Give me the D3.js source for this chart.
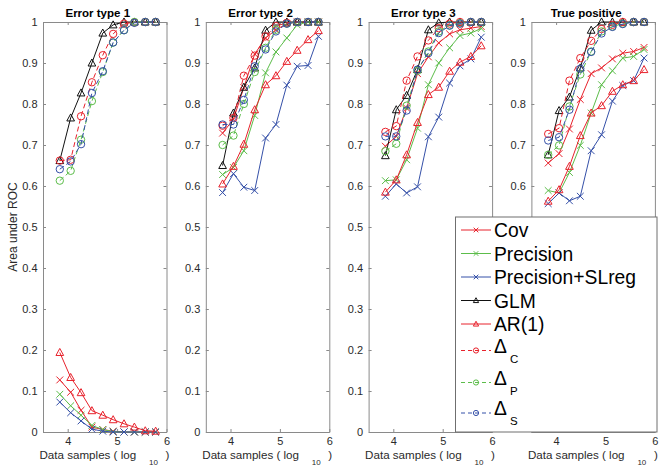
<!DOCTYPE html>
<html><head><meta charset="utf-8">
<script src="https://cdn.jsdelivr.net/npm/d3@7"></script>
<style>
html,body{margin:0;padding:0;background:#fff;}
svg{display:block;font-family:"Liberation Sans",Arial,sans-serif;}
</style></head>
<body><svg id="chart" width="668" height="473"></svg>
<script>
// ---------- data ----------
const xSamples = [3.84, 4.06, 4.27, 4.49, 4.71, 4.92, 5.14, 5.35, 5.57, 5.78];
const panelTitles = ["Error type 1", "Error type 2", "Error type 3", "True positive"];
const xTicks = [4, 5, 6];
const yTicks = [0, 0.1, 0.2, 0.3, 0.4, 0.5, 0.6, 0.7, 0.8, 0.9, 1];
const yTickLabels = ["0", "0.1", "0.2", "0.3", "0.4", "0.5", "0.6", "0.7", "0.8", "0.9", "1"];

const covValues = [
  [0.127, 0.097, 0.053, 0.012, 0.006, 0.002, 0, 0, 0, 0],
  [0.729, 0.763, 0.840, 0.922, 0.961, 0.981, 0.996, 1, 1, 1],
  [0.697, 0.721, 0.790, 0.874, 0.915, 0.949, 0.971, 0.981, 0.985, 0.989],
  [0.656, 0.679, 0.739, 0.811, 0.874, 0.888, 0.910, 0.924, 0.928, 0.938]
];
const precisionValues = [
  [0.092, 0.064, 0.041, 0.016, 0.006, 0.001, 0, 0, 0, 0],
  [0.628, 0.645, 0.686, 0.772, 0.876, 0.927, 0.961, 0.993, 1, 1],
  [0.613, 0.615, 0.664, 0.741, 0.847, 0.900, 0.937, 0.967, 0.973, 0.984],
  [0.589, 0.583, 0.633, 0.699, 0.778, 0.847, 0.881, 0.912, 0.916, 0.933]
];
const precSLregValues = [
  [0.073, 0.047, 0.027, 0.007, 0.002, 0, 0, 0, 0, 0],
  [0.584, 0.630, 0.597, 0.589, 0.717, 0.750, 0.846, 0.892, 0.894, 0.965],
  [0.575, 0.605, 0.583, 0.598, 0.720, 0.768, 0.851, 0.893, 0.910, 0.963],
  [0.557, 0.583, 0.564, 0.575, 0.686, 0.725, 0.807, 0.845, 0.857, 0.912]
];
const glmValues = [
  [0.662, 0.766, 0.827, 0.900, 0.973, 0.993, 1, 1, 1, 1],
  [0.650, 0.778, 0.841, 0.888, 0.980, 1, 1, 1, 1, 1],
  [0.674, 0.786, 0.821, 0.884, 0.981, 0.998, 1, 1, 1, 1],
  [0.676, 0.784, 0.817, 0.888, 0.980, 1, 1, 1, 1, 1]
];
const ar1Values = [
  [0.194, 0.133, 0.096, 0.052, 0.041, 0.030, 0.020, 0.012, 0.003, 0.002],
  [0.605, 0.648, 0.702, 0.786, 0.847, 0.869, 0.904, 0.931, 0.957, 0.979],
  [0.585, 0.615, 0.676, 0.755, 0.823, 0.841, 0.880, 0.902, 0.916, 0.942],
  [0.563, 0.591, 0.648, 0.723, 0.778, 0.796, 0.831, 0.847, 0.857, 0.884]
];
const deltaCValues = [
  [0.662, 0.664, 0.770, 0.853, 0.919, 0.971, 0.996, 0.999, 1, 1],
  [0.747, 0.766, 0.869, 0.918, 0.965, 0.990, 0.998, 1, 1, 1],
  [0.732, 0.746, 0.857, 0.916, 0.955, 0.985, 0.996, 1, 1, 1],
  [0.727, 0.741, 0.857, 0.912, 0.954, 0.983, 0.993, 1, 1, 1]
];
const deltaPValues = [
  [0.613, 0.637, 0.713, 0.807, 0.878, 0.950, 0.980, 1, 1, 1],
  [0.700, 0.723, 0.800, 0.878, 0.937, 0.981, 0.996, 1, 1, 1],
  [0.685, 0.703, 0.796, 0.881, 0.928, 0.977, 0.992, 0.997, 1, 1],
  [0.676, 0.699, 0.794, 0.872, 0.928, 0.977, 0.989, 0.996, 1, 1]
];
const deltaSValues = [
  [0.641, 0.660, 0.702, 0.827, 0.880, 0.950, 0.980, 0.998, 1, 1],
  [0.750, 0.750, 0.810, 0.892, 0.933, 0.977, 0.996, 1, 1, 1],
  [0.721, 0.721, 0.784, 0.884, 0.924, 0.973, 0.991, 0.996, 1, 1],
  [0.711, 0.719, 0.786, 0.886, 0.927, 0.972, 0.988, 0.995, 1, 1]
];

const RED = "#e8222c", GREEN = "#5cbd4a", BLUE = "#3550a8", BLACK = "#111";
const series = [
  {name: "Cov", sub: null, values: covValues, color: RED, marker: "x", dash: null},
  {name: "Precision", sub: null, values: precisionValues, color: GREEN, marker: "x", dash: null},
  {name: "Precision+SLreg", sub: null, values: precSLregValues, color: BLUE, marker: "x", dash: null},
  {name: "GLM", sub: null, values: glmValues, color: BLACK, marker: "tri", dash: null},
  {name: "AR(1)", sub: null, values: ar1Values, color: RED, marker: "tri", dash: null},
  {name: "Δ", sub: "C", values: deltaCValues, color: RED, marker: "circ", dash: "5,3"},
  {name: "Δ", sub: "P", values: deltaPValues, color: GREEN, marker: "circ", dash: "5,3"},
  {name: "Δ", sub: "S", values: deltaSValues, color: BLUE, marker: "circ", dash: "5,3"}
];

// ---------- layout ----------
const svg = d3.select("#chart");
const plotTop = 22, plotBottom = 432, pw = 123.5, step = 162.8, left0 = 43;
const axisColor = "#8a8a8a", labelColor = "#2a2a2a";
const legBox = {x: 455.5, y: 217, w: 201.5, h: 215};

function drawMarker(g, type, cx, cy, color, s) {
  if (type === "x") {
    g.append("path").attr("d", `M${cx - s},${cy - s}L${cx + s},${cy + s}M${cx - s},${cy + s}L${cx + s},${cy - s}`)
      .attr("stroke", color).attr("stroke-width", 1).attr("fill", "none");
  } else if (type === "tri") {
    const h = s * 1.15;
    g.append("path").attr("d", `M${cx},${cy - h}L${cx + s * 1.1},${cy + h * 0.75}L${cx - s * 1.1},${cy + h * 0.75}Z`)
      .attr("stroke", color).attr("stroke-width", 1).attr("fill", "none");
  } else {
    g.append("circle").attr("cx", cx).attr("cy", cy).attr("r", s)
      .attr("stroke", color).attr("stroke-width", 1).attr("fill", "none");
  }
}
const markerSize = {x: 3.4, tri: 3.5, circ: 3.7};

panelTitles.forEach((title, p) => {
  const L = left0 + p * step, R = L + pw;
  const x = d3.scaleLinear().domain([3.5, 6]).range([L, R]);
  const y = d3.scaleLinear().domain([0, 1]).range([plotBottom, plotTop]);
  const g = svg.append("g");

  // tick labels that would sit underneath the legend box are not visible in the original
  const hidden = v => (L - 12 > legBox.x && y(v) > legBox.y);
  const yl = d3.axisLeft(y).tickValues(yTicks).tickSizeInner(-3).tickSizeOuter(0)
    .tickFormat((d, i) => hidden(d) ? "" : yTickLabels[i]).tickPadding(5.5);
  const yr = d3.axisRight(y).tickValues(yTicks).tickSizeInner(-3).tickSizeOuter(0).tickFormat("");
  const xb = d3.axisBottom(x).tickValues(xTicks).tickSizeInner(-3).tickSizeOuter(0)
    .tickFormat(d3.format("d")).tickPadding(5.5);
  const xt = d3.axisTop(x).tickValues(xTicks).tickSizeInner(-3).tickSizeOuter(0).tickFormat("");
  [[yl, `translate(${L},0)`], [yr, `translate(${R},0)`], [xb, `translate(0,${plotBottom})`], [xt, `translate(0,${plotTop})`]]
    .forEach(([a, t]) => {
      const s = g.append("g").attr("transform", t).call(a);
      s.select(".domain").attr("stroke", axisColor);
      s.selectAll(".tick line").attr("stroke", axisColor);
      s.selectAll(".tick text").attr("fill", labelColor).attr("font-size", 11)
        .attr("font-family", "Liberation Sans, Arial, sans-serif");
      s.selectAll(".tick text").filter(function () { return this.textContent === ""; }).remove();
    });

  const line = d3.line().x((d, i) => x(xSamples[i])).y(d => y(d));
  series.forEach(s => {
    const vals = s.values[p];
    g.append("path").datum(vals).attr("d", line).attr("fill", "none")
      .attr("stroke", s.color).attr("stroke-width", 1)
      .attr("stroke-dasharray", s.dash);
    vals.forEach((v, i) => drawMarker(g, s.marker, x(xSamples[i]), y(v), s.color, markerSize[s.marker]));
  });

  g.append("text").attr("x", (L + R) / 2 - 7).attr("y", 17).attr("text-anchor", "middle")
    .attr("font-weight", "bold").attr("font-size", 11.5).attr("fill", "#000").text(title);

  const xlab = g.append("text").attr("x", L - 3.5).attr("y", 459).attr("font-size", 11.6).attr("fill", labelColor);
  xlab.append("tspan").text("Data samples ( log");
  xlab.append("tspan").attr("x", L + 106).attr("y", 465).attr("font-size", 8).text("10");
  xlab.append("tspan").attr("x", L + 122.5).attr("y", 459).text(")");
});

svg.append("text").attr("transform", `translate(17,${(plotTop + plotBottom) / 2}) rotate(-90)`)
  .attr("text-anchor", "middle").attr("font-size", 12).attr("fill", labelColor).text("Area under ROC");

// ---------- legend ----------
const leg = svg.append("g");
leg.append("rect").attr("x", legBox.x).attr("y", legBox.y).attr("width", legBox.w).attr("height", legBox.h)
  .attr("fill", "#fff").attr("stroke", "#6f6f6f").attr("stroke-width", 1);
const legY = [230, 253.5, 277, 300.5, 324, 350.5, 382.5, 413];
series.forEach((s, i) => {
  const ly = legY[i];
  leg.append("line").attr("x1", 461).attr("x2", 491).attr("y1", ly).attr("y2", ly)
    .attr("stroke", s.color).attr("stroke-width", 1).attr("stroke-dasharray", s.dash ? "4,3" : null);
  const ms = {x: 2.3, tri: 2.4, circ: 2.6}[s.marker];
  drawMarker(leg, s.marker, 476, ly, s.color, ms);
  if (s.sub) {
    const t = leg.append("text").attr("x", 494).attr("y", ly + 2.3).attr("font-size", 19.3).attr("fill", "#000");
    t.append("tspan").text(s.name);
    t.append("tspan").attr("x", 510).attr("y", ly + 12.3).attr("font-size", 11.5).text(s.sub);
  } else {
    leg.append("text").attr("x", 494).attr("y", ly + 7).attr("font-size", 19.3).attr("fill", "#000").text(s.name);
  }
});
</script></body></html>
